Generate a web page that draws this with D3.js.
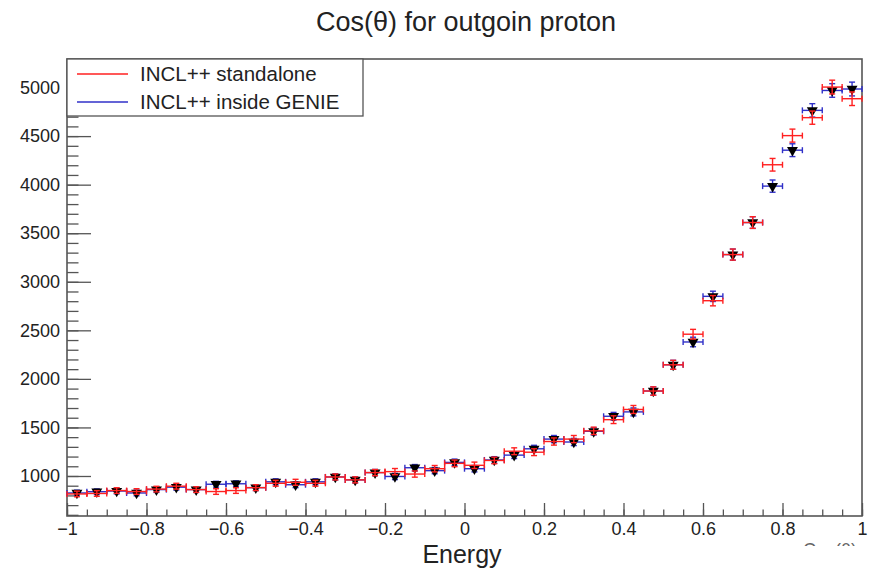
<!DOCTYPE html>
<html>
<head>
<meta charset="utf-8">
<script src="https://cdn.jsdelivr.net/npm/d3@7"></script>
<style>
  html, body { margin: 0; padding: 0; background: #fff; }
  svg { display: block; font-family: "Liberation Sans", Arial, Helvetica, sans-serif; }
</style>
</head>
<body>
<svg id="chart" width="873" height="571"></svg>
<script>
// ---- data ----
const binCenters = [-0.975,-0.925,-0.875,-0.825,-0.775,-0.725,-0.675,-0.625,-0.575,-0.525,
                    -0.475,-0.425,-0.375,-0.325,-0.275,-0.225,-0.175,-0.125,-0.075,-0.025,
                     0.025, 0.075, 0.125, 0.175, 0.225, 0.275, 0.325, 0.375, 0.425, 0.475,
                     0.525, 0.575, 0.625, 0.675, 0.725, 0.775, 0.825, 0.875, 0.925, 0.975];
const binHalfWidth = 0.025;
const genieValues = [825,838,845,825,860,885,860,915,920,880,
                     940,910,940,990,960,1035,995,1085,1055,1140,
                     1075,1165,1215,1280,1380,1350,1460,1615,1660,1875,
                     2145,2380,2850,3280,3610,3985,4355,4765,4970,4985];
const genieErrors = [29,29,29,29,29,30,29,30,30,30,
                     31,30,31,31,31,32,32,33,32,34,
                     33,34,35,36,37,37,38,40,41,43,
                     46,49,53,57,60,63,66,69,70,71];
const standaloneValues = [815,820,850,840,865,895,860,840,850,880,
                          925,935,925,990,960,1035,1045,1020,1075,1130,
                          1110,1160,1255,1245,1355,1380,1465,1580,1685,1875,
                          2145,2460,2805,3280,3610,4205,4505,4690,5005,4885];
const standaloneErrors = [29,29,29,29,29,30,29,29,29,30,
                          30,31,30,31,31,32,32,32,33,34,
                          33,34,35,35,37,37,38,40,41,43,
                          46,50,53,57,60,65,67,68,71,70];
const xMajorTicks = [-1,-0.8,-0.6,-0.4,-0.2,0,0.2,0.4,0.6,0.8,1];
const yMajorTicks = [1000,1500,2000,2500,3000,3500,4000,4500,5000];
const legendLabels = ["INCL++ standalone", "INCL++ inside GENIE"];
const titleText = "Cos(\u03b8) for outgoin proton";
const xTitle = "Energy";

// ---- layout ----
const svg = d3.select("#chart");
const frame = {left: 67, right: 862, top: 59, bottom: 516};
const x = d3.scaleLinear().domain([-1, 1]).range([frame.left, frame.right]);
const y = d3.scaleLinear().domain([588, 5294]).range([frame.bottom, frame.top]);
const axisColor = "#555";
const red = "#ff2020";
const blue = "#3030c8";

// title
svg.append("text").attr("x", 466).attr("y", 31).attr("text-anchor", "middle")
  .attr("font-size", 27).attr("fill", "#222").text(titleText);

// partly hidden axis title fragment at bottom right
svg.append("defs").append("clipPath").attr("id", "cutTitle")
  .append("rect").attr("x", 790).attr("y", 540).attr("width", 80).attr("height", 6);
svg.append("text").attr("x", 830).attr("y", 556).attr("text-anchor", "middle")
  .attr("font-size", 18).attr("fill", "#666").attr("clip-path", "url(#cutTitle)").text("Cos(\u03b8)");

// x axis (ticks inward)
const xMinor = d3.range(-1, 1.0001, 0.05);
const xAxisMinor = d3.axisBottom(x).tickValues(xMinor).tickSize(-6.5).tickFormat("");
const xAxisMajor = d3.axisBottom(x).tickValues(xMajorTicks).tickSize(-13)
  .tickFormat(d => d3.format("")(Math.round(d * 10) / 10).replace("-", "\u2212"));
const gxm = svg.append("g").attr("transform", `translate(0,${frame.bottom})`).call(xAxisMinor);
const gx = svg.append("g").attr("transform", `translate(0,${frame.bottom})`).call(xAxisMajor);
[gxm, gx].forEach(g => {
  g.select(".domain").remove();
  g.selectAll(".tick line").attr("stroke", axisColor).attr("stroke-width", 1.3);
});
gx.selectAll(".tick text").attr("font-size", 18).attr("fill", "#222")
  .attr("dy", null).attr("y", 19);

// y axis (ticks inward)
const yMinor = d3.range(600, 5294, 100);
const yAxisMinor = d3.axisLeft(y).tickValues(yMinor).tickSize(-11.5).tickFormat("");
const yAxisMajor = d3.axisLeft(y).tickValues(yMajorTicks).tickSize(-24).tickFormat(d3.format("d"));
const gym = svg.append("g").attr("transform", `translate(${frame.left},0)`).call(yAxisMinor);
const gy = svg.append("g").attr("transform", `translate(${frame.left},0)`).call(yAxisMajor);
[gym, gy].forEach(g => {
  g.select(".domain").remove();
  g.selectAll(".tick line").attr("stroke", axisColor).attr("stroke-width", 1.3);
});
gy.selectAll(".tick text").attr("font-size", 18).attr("fill", "#222").attr("x", -7);

// frame
svg.append("rect").attr("x", frame.left).attr("y", frame.top)
  .attr("width", frame.right - frame.left).attr("height", frame.bottom - frame.top)
  .attr("fill", "none").attr("stroke", axisColor).attr("stroke-width", 1.6);

// x title
svg.append("text").attr("x", 462).attr("y", 563).attr("text-anchor", "middle")
  .attr("font-size", 25).attr("fill", "#222").text(xTitle);

// ---- error bars ----
function drawErrors(values, errors, color, cls) {
  const data = values.map((v, i) => ({c: binCenters[i], v, e: errors[i]}));
  const g = svg.append("g").attr("class", cls).attr("stroke", color).attr("stroke-width", 1.4).attr("fill", "none");
  const cap = 3;
  const pts = g.selectAll("g").data(data).join("g");
  pts.append("line")
    .attr("x1", d => x(d.c - binHalfWidth)).attr("x2", d => x(d.c + binHalfWidth))
    .attr("y1", d => y(d.v)).attr("y2", d => y(d.v));
  pts.append("line")
    .attr("x1", d => x(d.c)).attr("x2", d => x(d.c))
    .attr("y1", d => y(d.v - d.e)).attr("y2", d => y(d.v + d.e));
  pts.append("line")
    .attr("x1", d => x(d.c - binHalfWidth)).attr("x2", d => x(d.c - binHalfWidth))
    .attr("y1", d => y(d.v) - cap).attr("y2", d => y(d.v) + cap);
  pts.append("line")
    .attr("x1", d => x(d.c + binHalfWidth)).attr("x2", d => x(d.c + binHalfWidth))
    .attr("y1", d => y(d.v) - cap).attr("y2", d => y(d.v) + cap);
  pts.append("line")
    .attr("x1", d => x(d.c) - cap).attr("x2", d => x(d.c) + cap)
    .attr("y1", d => y(d.v - d.e)).attr("y2", d => y(d.v - d.e));
  pts.append("line")
    .attr("x1", d => x(d.c) - cap).attr("x2", d => x(d.c) + cap)
    .attr("y1", d => y(d.v + d.e)).attr("y2", d => y(d.v + d.e));
}

drawErrors(genieValues, genieErrors, blue, "genie");
// GENIE markers: black inverted triangles
svg.append("g").selectAll("path").data(genieValues).join("path")
  .attr("d", d3.symbol(d3.symbolTriangle, 52))
  .attr("transform", (v, i) => `translate(${x(binCenters[i])},${y(v)}) rotate(180)`)
  .attr("fill", "#000");
drawErrors(standaloneValues, standaloneErrors, red, "standalone");

// ---- legend ----
const lg = svg.append("g");
lg.append("rect").attr("x", 67).attr("y", 59).attr("width", 296).attr("height", 57)
  .attr("fill", "#fff").attr("stroke", axisColor).attr("stroke-width", 1.3);
[red, blue].forEach((c, i) => {
  const ly = 74 + i * 28;
  lg.append("line").attr("x1", 77).attr("x2", 128).attr("y1", ly).attr("y2", ly)
    .attr("stroke", c).attr("stroke-width", 1.3);
  lg.append("text").attr("x", 140).attr("y", ly + 7).attr("font-size", 20.5)
    .attr("fill", "#222").text(legendLabels[i]);
});
</script>
</body>
</html>
